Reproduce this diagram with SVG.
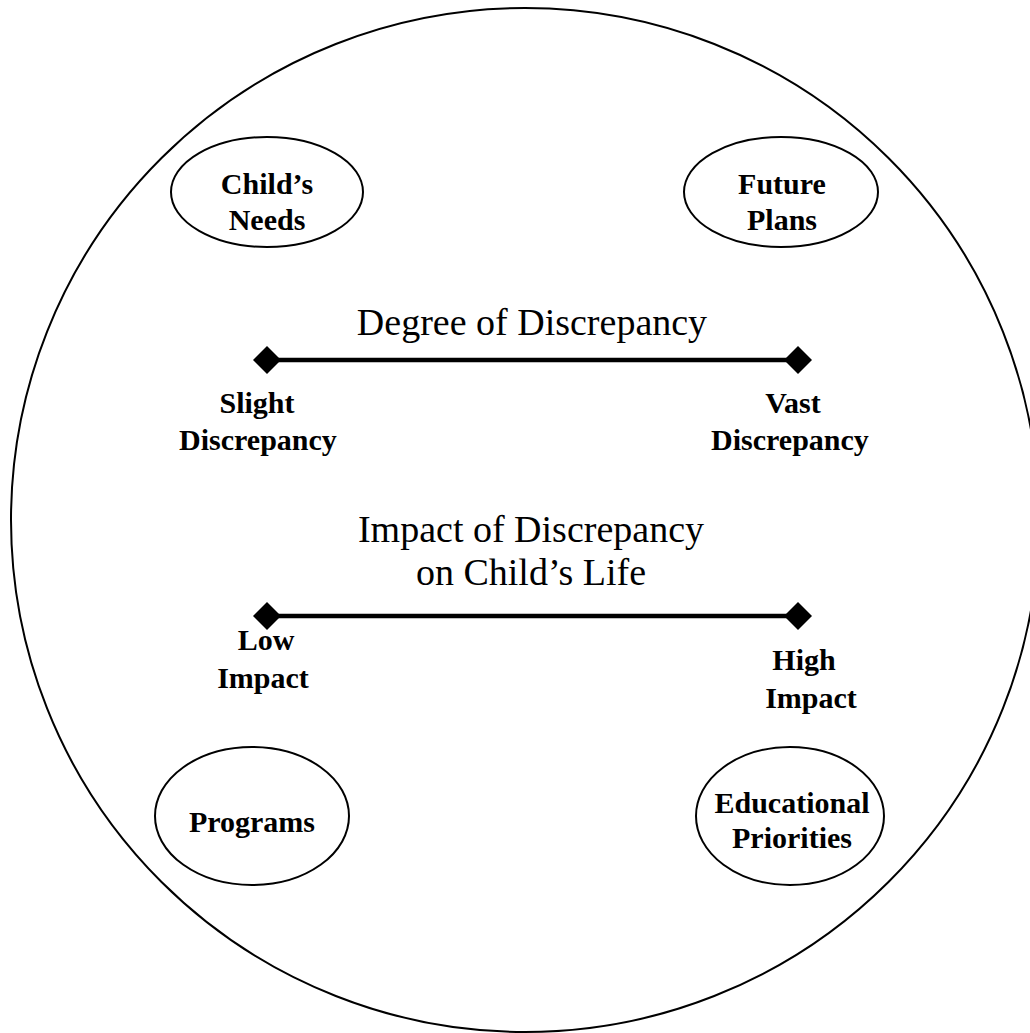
<svg xmlns="http://www.w3.org/2000/svg" width="1030" height="1033" viewBox="0 0 1030 1033">
<style>
.node ellipse{fill:none;stroke:#000;stroke-width:2}
.lbl{font-family:"Liberation Serif","Times New Roman",serif;font-weight:bold;font-size:30px;fill:#000;text-anchor:middle}
.ttl{font-family:"Liberation Serif","Times New Roman",serif;font-size:38px;fill:#000;text-anchor:middle}
.bar{stroke:#000;stroke-width:4.5}
.dia{fill:#000}
</style>
<rect width="1030" height="1033" fill="#fff"/>
<g id="outer-circle">
<ellipse cx="525" cy="520" rx="514" ry="512" fill="none" stroke="#000" stroke-width="2"/>
</g>
<g id="childs-needs" class="node">
<ellipse cx="267" cy="192" rx="96" ry="55"/>
<text class="lbl" x="267" y="194">Child’s</text>
<text class="lbl" x="267" y="230">Needs</text>
</g>
<g id="future-plans" class="node">
<ellipse cx="781" cy="192" rx="97" ry="55"/>
<text class="lbl" x="782" y="194">Future</text>
<text class="lbl" x="782" y="230">Plans</text>
</g>
<g id="programs" class="node">
<ellipse cx="252" cy="816" rx="97" ry="69"/>
<text class="lbl" x="252" y="832">Programs</text>
</g>
<g id="educational-priorities" class="node">
<ellipse cx="790" cy="816" rx="94" ry="69"/>
<text class="lbl" x="792" y="813">Educational</text>
<text class="lbl" x="792" y="848">Priorities</text>
</g>
<g id="degree-scale">
<text class="ttl" x="532" y="335">Degree of Discrepancy</text>
<line class="bar" x1="267" y1="360" x2="798" y2="360"/>
<polygon class="dia" points="253,360 267,346 281,360 267,374"/>
<polygon class="dia" points="784,360 798,346 812,360 798,374"/>
<text class="lbl" x="257" y="413">Slight</text>
<text class="lbl" x="258" y="450">Discrepancy</text>
<text class="lbl" x="793" y="413">Vast</text>
<text class="lbl" x="790" y="450">Discrepancy</text>
</g>
<g id="impact-scale">
<text class="ttl" x="531" y="542">Impact of Discrepancy</text>
<text class="ttl" x="531" y="585">on Child’s Life</text>
<line class="bar" x1="267" y1="616" x2="798" y2="616"/>
<polygon class="dia" points="253,616 267,602 281,616 267,630"/>
<polygon class="dia" points="784,616 798,602 812,616 798,630"/>
<text class="lbl" x="266" y="650">Low</text>
<text class="lbl" x="263" y="688">Impact</text>
<text class="lbl" x="804" y="670">High</text>
<text class="lbl" x="811" y="708">Impact</text>
</g>
<g id="connectors"></g>
</svg>
